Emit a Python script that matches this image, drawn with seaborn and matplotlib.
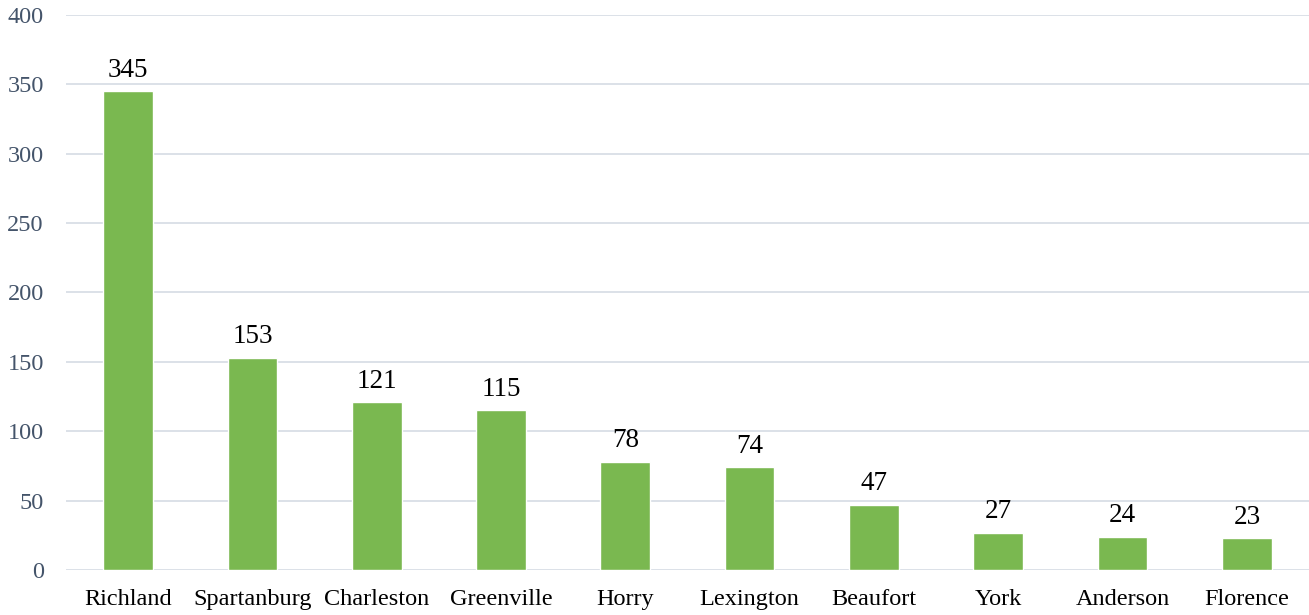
import matplotlib
matplotlib.use('Agg')
import matplotlib.pyplot as plt
import seaborn as sns
import pandas as pd

# County counts
counties = ['Richland', 'Spartanburg', 'Charleston', 'Greenville', 'Horry',
            'Lexington', 'Beaufort', 'York', 'Anderson', 'Florence']
counts = [345, 153, 121, 115, 78, 74, 47, 27, 24, 23]
y_ticks = [0, 50, 100, 150, 200, 250, 300, 350, 400]

df = pd.DataFrame({'County': counties, 'Count': counts})

sns.set_style('white')
plt.rcParams['font.family'] = ['Liberation Serif', 'DejaVu Serif']

fig = plt.figure(figsize=(13.09, 6.15), dpi=100)
ax = fig.add_axes([0.0504, 0.0732, 0.9496, 0.9024])

sns.barplot(data=df, x='County', y='Count', color='#7AB850', width=0.4,
            saturation=1, ax=ax, zorder=3)

ax.set_ylim(0, 400)
ax.set_yticks(y_ticks)
ax.set_xlim(-0.5, len(counties) - 0.5)
ax.yaxis.grid(True, color='#D9DEE6', linewidth=1.3, zorder=0)
ax.set_axisbelow(True)
for s in ax.spines.values():
    s.set_visible(False)
ax.tick_params(axis='y', length=0, pad=16, labelsize=17.5, labelcolor='#44546A')
ax.tick_params(axis='x', length=0, pad=13.5, labelsize=17.5, labelcolor='black')
ax.set_xlabel('')
ax.set_ylabel('')

for i, v in enumerate(counts):
    ax.annotate(str(v), (i, v), xytext=(0, 6), textcoords='offset points',
                ha='center', va='bottom', fontsize=19.5, color='black')

fig.savefig('out.png', dpi=100)
